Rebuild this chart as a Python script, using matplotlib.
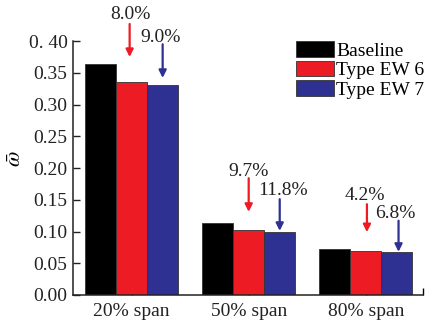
import matplotlib
matplotlib.use("Agg")
import matplotlib.pyplot as plt
import numpy as np

plt.rcParams['font.family'] = ['Liberation Serif', 'DejaVu Serif']
plt.rcParams['mathtext.fontset'] = 'stix'

categories = ["20% span", "50% span", "80% span"]
series_names = ["Baseline", "Type EW 6", "Type EW 7"]
baseline = [0.364, 0.113, 0.0724]
ew6 = [0.335, 0.102, 0.0694]
ew7 = [0.331, 0.0997, 0.0675]
colors = ["#000000", "#ED1C24", "#2E3192"]
ytick_vals = [0.00, 0.05, 0.10, 0.15, 0.20, 0.25, 0.30, 0.35, 0.40]
ytick_labels = ["0.00", "0.05", "0.10", "0.15", "0.20", "0.25", "0.30", "0.35", "0. 40"]

# reduction annotations: (label, color, text x, text y, arrow x, arrow tail y, arrow tip y)
ann_labels = ["8.0%", "9.0%", "9.7%", "11.8%", "4.2%", "6.8%"]
ann_colors = [colors[1], colors[2]] * 3
ann_text_x = [-0.01, 0.25, 1.0, 1.29, 1.99, 2.25]
ann_text_y = [0.4425, 0.406, 0.195, 0.164, 0.156, 0.129]
ann_arrow_x = [-0.017, 0.265, 1.0, 1.265, 2.01, 2.28]
ann_tail_y = [0.427, 0.395, 0.184, 0.151, 0.143, 0.117]
ann_tip_y = [0.375, 0.342, 0.131, 0.101, 0.099, 0.068]

fig = plt.figure(figsize=(4.30, 3.23), dpi=100)
ax = fig.add_axes([0.170, 0.0867, 0.814, 0.786])

x = np.arange(len(categories))
w = 0.265
for i, (vals, name, c) in enumerate(zip([baseline, ew6, ew7], series_names, colors)):
    ax.bar(x + (i - 1) * w, vals, width=w, color=c, edgecolor="#333333",
           linewidth=0.6, label=name, zorder=2)

for lab, c, tx, ty, axx, t0, t1 in zip(ann_labels, ann_colors, ann_text_x, ann_text_y,
                                        ann_arrow_x, ann_tail_y, ann_tip_y):
    ax.annotate("", xy=(axx, t1), xytext=(axx, t0),
                arrowprops=dict(arrowstyle="-|>", color=c, lw=1.6, mutation_scale=11,
                                shrinkA=0, shrinkB=0),
                annotation_clip=False, zorder=3)
    ax.text(tx, ty, lab, ha="center", va="center", fontsize=14, color="#222222",
            clip_on=False)

ax.set_xlim(-0.5, 2.49)
ax.set_ylim(0, 0.40)
ax.set_xticks(x)
ax.set_xticklabels(categories)
ax.set_xticks([2.49], minor=True)
ax.set_yticks(ytick_vals)
ax.set_yticklabels(ytick_labels)
ax.tick_params(axis="both", direction="in", length=5, width=1.0, labelsize=14,
               colors="#222222")
ax.tick_params(axis="x", which="minor", direction="in", length=5, width=1.0)
ax.tick_params(axis="y", pad=4)
ax.tick_params(axis="x", pad=6)
for s in ["top", "right"]:
    ax.spines[s].set_visible(False)
for s in ["left", "bottom"]:
    ax.spines[s].set_linewidth(1.1)
    ax.spines[s].set_color("#222222")

ax.set_ylabel(r"$\bar{\omega}$", fontsize=16, labelpad=2)
ax.yaxis.set_label_coords(-0.135, 0.535)

leg = ax.legend(loc="upper left", bbox_to_anchor=(0.637, 1.0), frameon=False,
                fontsize=14, handlelength=1.95, handleheight=0.85, labelspacing=0.05,
                handletextpad=0.1, borderpad=0, borderaxespad=0)

fig.savefig("out.png", dpi=100, facecolor="white")
